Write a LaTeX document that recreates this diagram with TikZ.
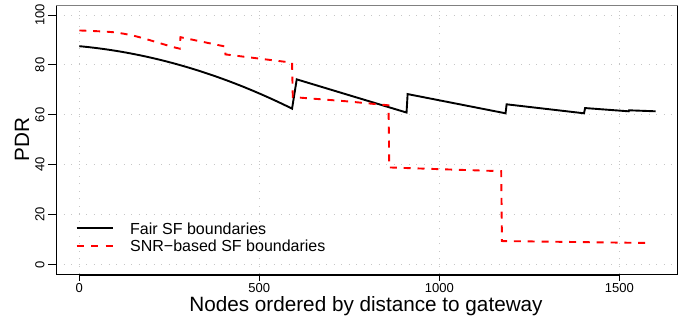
\documentclass[tikz,border=0pt]{standalone}
\usepackage{fontspec}
\setmainfont{Liberation Sans}
\usetikzlibrary{calc}

\begin{document}
\begin{tikzpicture}[x=0.36pt, y=2.495pt]
    \tikzstyle{gridline} = [gray!45, line width=0.8pt, dash pattern=on 1pt off 6.5pt]
    \tikzstyle{frame} = [black, line width=0.9pt]
    \tikzstyle{fair} = [black, line width=1.9pt, line join=miter]
    \tikzstyle{snr} = [red, line width=1.9pt, dash pattern=on 7pt off 6.8pt]
    \tikzstyle{ticklabel} = [font=\fontsize{13}{15}\selectfont, inner sep=0pt]
    \tikzstyle{axislabel} = [font=\fontsize{20.7}{24}\selectfont, inner sep=0pt]
    \tikzstyle{legendtext} = [font=\fontsize{16}{19}\selectfont, anchor=west, inner sep=0pt]
    \useasboundingbox (-79.3pt,-58.5pt) rectangle ++(697pt,323pt);
    % Grid
    \foreach \x in {0,500,1000,1500}
        \draw [gridline] (\x,-3.93) -- (\x,104);
    \foreach \y in {0,20,...,100}
        \draw [gridline] (-64.7,\y) -- (1661.7,\y);
    % Box and axes
    \draw [frame] (-64.7,104) -- (-64.7,-3.93) -- (1661.7,-3.93) -- (1661.7,104);
    \draw [frame, gray] (-64.7,104) -- (1661.7,104);
    \draw [frame] (0,-4.41) -- (1500,-4.41);
    \foreach \x in {0,500,1000,1500} {
        \draw [frame] (\x,-4.41) -- (\x,-6.61);
        \node (xt\x) [ticklabel] at (\x,-9.4) {\x};
    }
    \foreach \y in {0,20,...,100} {
        \draw [frame] (-64.7,\y) -- (-88.3,\y);
        \node (yt\y) [ticklabel, rotate=90] at (-109.2,\y) {\y};
    }
    \node (xlabel) [axislabel, anchor=base] at (796.4,-18.64) {Nodes ordered by distance to gateway};
    \node (ylabel) [axislabel, rotate=90] at (-159,50.1) {PDR};
    % Curves
    \draw [fair] plot[domain=0:591, samples=60] (\x, {87.5-0.0134*\x-0.49*(\x/100)^2})
        -- (604,74.2) -- (909,60.9) -- (912,68.3) -- (1184,60.6) -- (1187,64.2)
        -- (1402,60.6) -- (1405,62.7) -- (1526,61.4) -- (1527,61.8) -- (1601,61.4);
    \draw [snr] plot[smooth] coordinates {(0,93.8) (94,93.1) (159,91.4) (252,87.5) (279,86.5)}
        -- (281,91.1) -- (404,87.4) -- (406,84.2) -- (591,80.9) -- (593,67.1)
        -- (743,65.4) -- (859,63.8) -- (861,38.9) -- (1002,38.2) -- (1172,37.4)
        -- (1174,9.4) -- (1590,8.6);
    % Legend
    \draw [fair] (-7.2,14.5) -- (92.8,14.5);
    \node (fairtext) [legendtext] at (140.8,14.5) {Fair SF boundaries};
    \draw [snr, dash pattern=on 7pt off 7.5pt] (-7.2,7.4) -- (92.8,7.4);
    \node (snrtext) [legendtext] at (140.8,7.4) {SNR−based SF boundaries};
\end{tikzpicture}
\end{document}
